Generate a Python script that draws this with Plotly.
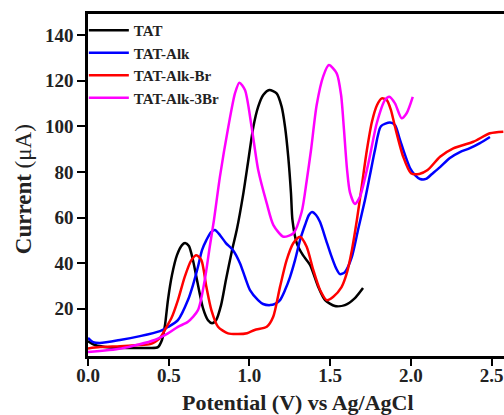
import plotly.graph_objects as go

# ---------------- data ----------------
tat_x = [0.000, 0.043, 0.136, 0.260, 0.384, 0.433, 0.458, 0.477, 0.495, 0.520, 0.551, 0.582, 0.601,
         0.625, 0.650, 0.681, 0.712, 0.743, 0.768, 0.793, 0.824, 0.854, 0.892, 0.921, 0.962, 0.993,
         1.024, 1.054, 1.085, 1.123, 1.168, 1.199, 1.220, 1.240, 1.257, 1.266, 1.293, 1.331, 1.375,
         1.424, 1.468, 1.529, 1.591, 1.653, 1.703]
tat_y = [5.8, 4.1, 3.0, 2.8, 2.8, 3.2, 6.3, 12.9, 23.8, 34.8, 43.5, 47.9, 48.8,
         47.5, 41.3, 30.4, 20.3, 15.0, 13.7, 15.0, 21.6, 32.6, 45.7, 54.5, 70.6, 85.2,
         99.8, 108.6, 113.7, 115.9, 114.4, 108.6, 99.8, 86.6, 70.6, 58.9, 48.7, 43.5, 39.2,
         29.9, 23.8, 21.2, 21.6, 24.7, 29.1]

alk_x = [0.000, 0.031, 0.074, 0.198, 0.322, 0.446, 0.495, 0.557, 0.619, 0.650, 0.681, 0.706, 0.733,
         0.762, 0.786, 0.817, 0.854, 0.898, 0.941, 0.972, 1.003, 1.053, 1.084, 1.127, 1.158, 1.189,
         1.220, 1.251, 1.282, 1.313, 1.344, 1.368, 1.387, 1.412, 1.437, 1.474, 1.505, 1.536, 1.560,
         1.591, 1.634, 1.672, 1.715, 1.746, 1.777, 1.814, 1.870, 1.901, 1.932, 1.963, 1.994, 2.025,
         2.056, 2.093, 2.130, 2.180, 2.241, 2.303, 2.365, 2.427, 2.489]
alk_y = [7.2, 5.4, 5.0, 6.3, 8.0, 10.2, 12.0, 15.0, 23.8, 30.4, 38.4, 45.7, 50.1,
         53.6, 54.5, 52.3, 48.8, 45.7, 40.0, 33.9, 28.2, 23.8, 22.1, 21.6, 22.1, 23.8,
         28.2, 33.9, 41.3, 50.1, 56.7, 61.1, 62.4, 61.1, 58.0, 50.1, 43.5, 37.8, 35.2,
         36.1, 42.8, 54.5, 67.7, 78.6, 89.6, 100.0, 101.6, 100.5, 94.0, 87.4, 81.7, 78.6,
         76.9, 76.9, 79.1, 82.1, 86.1, 88.7, 90.4, 92.6, 95.3]

br_x = [0.000, 0.074, 0.198, 0.310, 0.384, 0.415, 0.446, 0.464, 0.489, 0.516, 0.557, 0.599, 0.640,
        0.671, 0.702, 0.733, 0.764, 0.805, 0.867, 0.929, 0.985, 1.032, 1.107, 1.147, 1.189, 1.230,
        1.271, 1.313, 1.354, 1.395, 1.437, 1.478, 1.519, 1.570, 1.603, 1.634, 1.665, 1.696, 1.727,
        1.758, 1.790, 1.819, 1.850, 1.876, 1.901, 1.952, 2.000, 2.051, 2.103, 2.180, 2.262, 2.386,
        2.489, 2.572]
br_y = [2.6, 3.2, 3.6, 4.1, 4.5, 5.5, 7.2, 9.2, 12.4, 15.8, 23.8, 34.0, 41.3,
        43.5, 41.3, 29.6, 19.4, 12.1, 9.2, 8.9, 9.3, 10.7, 12.1, 16.5, 29.6, 41.3,
        48.7, 51.6, 47.2, 37.0, 28.2, 23.8, 25.3, 29.5, 35.7, 45.7, 58.9, 74.2, 89.6,
        101.9, 109.3, 112.2, 111.5, 107.1, 99.8, 86.6, 79.4, 79.1, 80.8, 86.6, 90.3, 93.2,
        96.9, 97.6]

br3_x = [0.000, 0.206, 0.413, 0.495, 0.557, 0.619, 0.681, 0.723, 0.754, 0.780, 0.817, 0.869, 0.910,
         0.937, 0.972, 1.013, 1.054, 1.107, 1.148, 1.210, 1.272, 1.323, 1.354, 1.381, 1.416, 1.457,
         1.492, 1.540, 1.567, 1.585, 1.604, 1.622, 1.653, 1.684, 1.736, 1.788, 1.839, 1.866, 1.901,
         1.942, 1.973, 2.011]
br3_y = [1.1, 2.6, 6.3, 9.2, 12.1, 14.3, 19.4, 32.6, 47.2, 58.9, 77.9, 99.8, 114.4,
         119.1, 115.9, 99.8, 80.8, 66.2, 56.7, 51.6, 53.1, 62.4, 76.0, 89.6, 109.3, 122.0,
         126.8, 123.2, 113.8, 98.6, 81.1, 71.0, 65.9, 69.1, 83.7, 101.3, 111.5, 112.9, 110.0,
         103.5, 105.7, 112.9]

series = [
    ("TAT", tat_x, tat_y, "#000000"),
    ("TAT-Alk", alk_x, alk_y, "#0000FF"),
    ("TAT-Alk-Br", br_x, br_y, "#FF0000"),
    ("TAT-Alk-3Br", br3_x, br3_y, "#FF00FF"),
]

x_ticks = [0.0, 0.5, 1.0, 1.5, 2.0, 2.5]
y_ticks = [20, 40, 60, 80, 100, 120, 140]

SERIF = "Liberation Serif, Times New Roman, serif"

fig = go.Figure()
for name, xs, ys, col in series:
    fig.add_trace(go.Scatter(x=xs, y=ys, mode="lines", name=name,
                             line=dict(color=col, width=2.5, shape="spline", smoothing=0.7)))

fig.update_layout(
    width=504, height=415,
    margin=dict(l=88, r=0, t=14, b=59),
    paper_bgcolor="white", plot_bgcolor="white",
    font=dict(family=SERIF, color="#222222"),
    showlegend=True,
    legend=dict(x=-0.01, y=1.0, xanchor="left", yanchor="top",
                bgcolor="rgba(0,0,0,0)", borderwidth=0,
                font=dict(family=SERIF, size=15, color="#222222", weight="bold"),
                itemwidth=40, tracegroupgap=0),
    xaxis=dict(range=[0, 2.576], tickvals=x_ticks, ticktext=[f"{v:.1f}" for v in x_ticks],
               showgrid=False, zeroline=False, showline=True, linecolor="black", linewidth=2.5,
               mirror=True, ticks="outside", ticklen=7, tickwidth=2, tickcolor="black",
               ticklabelstandoff=-7,
               tickfont=dict(family=SERIF, size=19, color="#222222", weight="bold")),
    yaxis=dict(range=[-0.7, 149.2], tickvals=y_ticks,
               showgrid=False, zeroline=False, showline=True, linecolor="black", linewidth=2.5,
               mirror=False, ticks="outside", ticklen=8, tickwidth=2, tickcolor="black",
               tickfont=dict(family=SERIF, size=19, color="#222222", weight="bold")),
    annotations=[
        dict(text="<b>Potential (V) vs Ag/AgCl</b>", xref="paper", yref="paper",
             x=0.506, y=-0.1374, xanchor="center", yanchor="middle", showarrow=False,
             font=dict(family=SERIF, size=22, color="#222222")),
        dict(text="<b>Current</b> (μA)", xref="paper", yref="paper",
             x=-0.156, y=0.488, xanchor="center", yanchor="middle", showarrow=False,
             textangle=-90, font=dict(family=SERIF, size=23, color="#222222")),
    ],
)

fig.write_html("out.html", config={"displayModeBar": False},
               post_script="document.body.style.margin='0';document.body.style.overflow='hidden';")
